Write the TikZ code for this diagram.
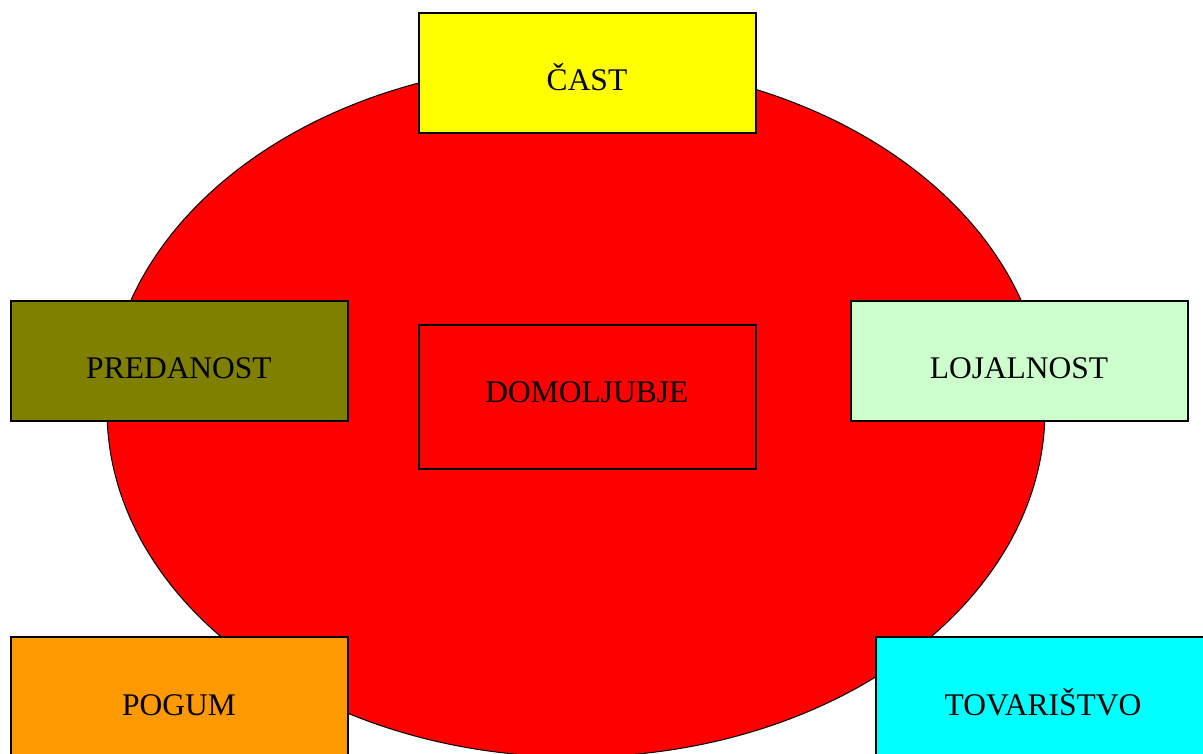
\documentclass[tikz,border=0pt]{standalone}
\usepackage{fontspec}
\setmainfont{Liberation Serif}
\usetikzlibrary{shapes.geometric}
\definecolor{cYellow}{HTML}{FFFF00}
\definecolor{cOlive}{HTML}{808000}
\definecolor{cMint}{HTML}{CCFFCC}
\definecolor{cOrange}{HTML}{FF9900}
\definecolor{cCyan}{HTML}{00FFFF}
\definecolor{cRed}{HTML}{FF0000}
\begin{document}
\begin{tikzpicture}[x=1pt,y=-1pt,
  virtue/.style={draw=black, line width=2pt, rectangle, inner sep=0pt,
    minimum width=337pt, minimum height=120pt},
  core/.style={virtue, minimum height=144pt},
  word/.style={anchor=base, inner sep=0pt, font=\fontsize{31.5pt}{36pt}\selectfont}]
  \useasboundingbox (0,0) rectangle (1203,753);
  \clip (0,0) rectangle (1203,753);
  \fill[white] (0,0) rectangle (1203,753);
  % the big red ellipse in the back
  \node[ellipse, draw=black, line width=1pt, fill=cRed, inner sep=0pt,
    minimum width=938pt, minimum height=694pt] (oval) at (576,410) {};
  % centre box
  \node[core] (dom) at (587.5,397) {};
  \node[word] (domt) at (587,402) {DOMOLJUBJE};
  % surrounding boxes
  \node[virtue, fill=cYellow] (cast) at (587.5,73) {};
  \node[word] (castt) at (587,90) {ČAST};
  \node[virtue, fill=cOlive] (pred) at (179,361) {};
  \node[word] (predt) at (179,378) {PREDANOST};
  \node[virtue, fill=cMint] (loj) at (1019,361) {};
  \node[word] (lojt) at (1019,378) {LOJALNOST};
  \node[virtue, fill=cOrange] (pog) at (179,697) {};
  \node[word] (pogt) at (179,715) {POGUM};
  \node[virtue, fill=cCyan] (tov) at (1044,697) {};
  \node[word] (tovt) at (1043,715) {TOVARIŠTVO};
\end{tikzpicture}
\end{document}
